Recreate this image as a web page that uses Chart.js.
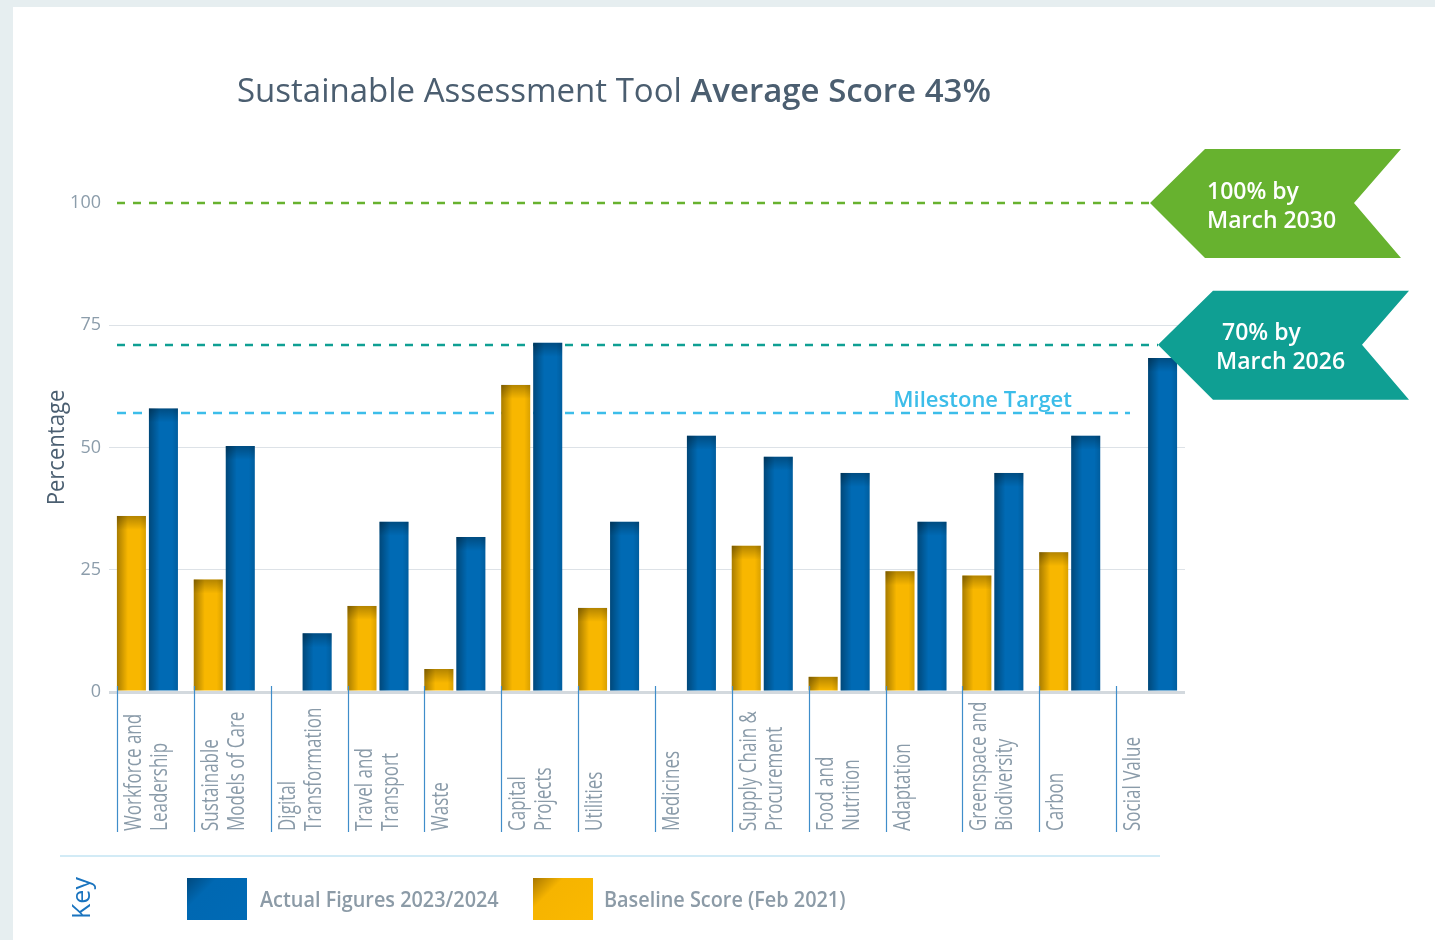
<!DOCTYPE html>
<html>
<head>
<meta charset="utf-8">
<script src="https://cdn.jsdelivr.net/npm/chart.js@4.4.1/dist/chart.umd.min.js"></script>
<style>
  body { margin: 0; width: 1435px; height: 940px; overflow: hidden; background: #e6eef0; font-family: 'Open Sans', sans-serif; }
  #card { position: absolute; left: 13px; top: 7px; width: 1422px; height: 933px; background: #fff; }
  #chart { position: absolute; left: 0; top: 0; }
  #title { position: absolute; left: 224px; top: 60px; font-size: 33px; color: #4b5e70; white-space: nowrap; }
  #title b { font-weight: 600; }
  #keyline { position: absolute; left: 47px; top: 848px; width: 1100px; height: 2px; background: #d2ebf6; }
  #key { position: absolute; left: 47px; top: 871px; width: 40px; height: 40px; }
  #key span { position: absolute; left: 50%; top: 50%; transform: translate(-50%, -50%) rotate(-90deg); color: #1a74bf; font-size: 25px; }
  .box { position: absolute; top: 871px; width: 60px; height: 42px; }
  .lbl { position: absolute; top: 878px; font-size: 21px; font-weight: 600; color: #8c9ba7; white-space: nowrap; transform: scaleX(0.945); transform-origin: left center; }
</style>
</head>
<body>
<div id="card">
  <canvas id="chart" width="1422" height="933"></canvas>
  <div id="title">Sustainable Assessment Tool <b>Average Score 43%</b></div>
  <div id="keyline"></div>
  <div id="key"><span>Key</span></div>
  <div class="box" style="left:174px;background:linear-gradient(135deg,#00497e 0%,#0068b2 30%,#006ab5 100%);"></div>
  <div class="lbl" style="left:247px;">Actual Figures 2023/2024</div>
  <div class="box" style="left:520px;background:linear-gradient(135deg,#a87700 0%,#f6b400 30%,#fab900 100%);"></div>
  <div class="lbl" style="left:591px;">Baseline Score (Feb 2021)</div>
</div>
<script>
const categories = [
  ['Workforce and', 'Leadership'],
  ['Sustainable', 'Models of Care'],
  ['Digital', 'Transformation'],
  ['Travel and', 'Transport'],
  ['Waste'],
  ['Capital', 'Projects'],
  ['Utilities'],
  ['Medicines'],
  ['Supply Chain &', 'Procurement'],
  ['Food and', 'Nutrition'],
  ['Adaptation'],
  ['Greenspace and', 'Biodiversity'],
  ['Carbon'],
  ['Social Value']
];
const baselineScores = [36, 23, 0, 17.6, 4.7, 62.8, 17.2, 0, 29.9, 3.1, 24.7, 23.8, 28.6, 0];
const actualScores = [58, 50.3, 12, 34.8, 31.7, 71.4, 34.8, 52.4, 48.1, 44.8, 34.8, 44.8, 52.4, 68.3];
const yTicks = [0, 25, 50, 75, 100];
const targetValues = [100, 71, 57];
const targetColors = ['#67b22f', '#0f9f93', '#3cbde9'];
const ribbonText = [['100% by', 'March 2030'], ['70% by', 'March 2026']];
const milestoneText = 'Milestone Target';

const yellow = '#f8b700';
const blue = '#006ab4';

const decor = {
  id: 'decor',
  beforeDatasetsDraw(chart) {
    const { ctx, scales: { x, y } } = chart;
    const step = x.width / categories.length;
    const startX = x.getPixelForValue(0) - step / 2 + 8;
    const ends = [1137, 1145, 1117];
    ctx.save();
    ctx.lineWidth = 2.5;
    targetValues.forEach((v, i) => {
      const py = Math.round(y.getPixelForValue(v));
      ctx.strokeStyle = targetColors[i];
      ctx.setLineDash(i === 2 ? [9, 7] : [8, 8]);
      ctx.beginPath();
      ctx.moveTo(startX, py);
      ctx.lineTo(ends[i], py);
      ctx.stroke();
    });
    ctx.restore();
  },
  afterDatasetsDraw(chart) {
    const { ctx } = chart;
    ctx.save();
    chart.data.datasets.forEach((ds, di) => {
      chart.getDatasetMeta(di).data.forEach(bar => {
        const h = bar.base - bar.y;
        if (h <= 0) return;
        const l = bar.x - bar.width / 2;
        const r = bar.x + bar.width / 2;
        let g = ctx.createLinearGradient(l, 0, l + 11, 0);
        g.addColorStop(0, 'rgba(0,0,0,0.32)');
        g.addColorStop(1, 'rgba(0,0,0,0)');
        ctx.fillStyle = g;
        ctx.fillRect(l, bar.y, 11, h);
        g = ctx.createLinearGradient(r - 6, 0, r, 0);
        g.addColorStop(0, 'rgba(0,0,0,0)');
        g.addColorStop(1, 'rgba(0,0,0,0.12)');
        ctx.fillStyle = g;
        ctx.fillRect(r - 6, bar.y, 6, h);
        const th = Math.min(14, h);
        g = ctx.createLinearGradient(0, bar.y, 0, bar.y + th);
        g.addColorStop(0, 'rgba(0,0,0,0.28)');
        g.addColorStop(1, 'rgba(0,0,0,0)');
        ctx.fillStyle = g;
        ctx.fillRect(l, bar.y, bar.width, th);
      });
    });
    ctx.restore();
  },
  afterDraw(chart) {
    const { ctx, chartArea, scales: { x, y } } = chart;
    const step = x.width / categories.length;
    const zeroY = y.getPixelForValue(0);
    const labelBottom = zeroY + 140;
    ctx.save();
    // category dividers and labels
    categories.forEach((lines, i) => {
      const lx = Math.round(x.getPixelForValue(i) - step / 2 + 8) + 0.5;
      ctx.strokeStyle = '#3f8dca';
      ctx.lineWidth = 1.2;
      ctx.beginPath();
      ctx.moveTo(lx, zeroY - 6);
      ctx.lineTo(lx, labelBottom);
      ctx.stroke();
      ctx.fillStyle = '#8a9ba9';
      ctx.font = '23px "Open Sans"';
      ctx.textAlign = 'left';
      ctx.textBaseline = 'middle';
      lines.forEach((t, k) => {
        ctx.save();
        ctx.translate(lx + 17 + k * 26, labelBottom - 1);
        ctx.rotate(-Math.PI / 2);
        ctx.scale(0.74, 1);
        ctx.fillText(t, 0, 0);
        ctx.restore();
      });
    });
    // y axis title
    ctx.save();
    ctx.translate(44, (chartArea.top + chartArea.bottom) / 2);
    ctx.rotate(-Math.PI / 2);
    ctx.fillStyle = '#4b5f71';
    ctx.font = '24px "Open Sans"';
    ctx.textAlign = 'center';
    ctx.textBaseline = 'middle';
    ctx.scale(0.92, 1);
    ctx.fillText('Percentage', 0, 0);
    ctx.restore();
    // ribbons
    const tips = [1137, 1145];
    const textX = [[57, 57], [64, 58]];
    ribbonText.forEach((lines, i) => {
      const tx = tips[i];
      const ty = y.getPixelForValue(targetValues[i]);
      ctx.fillStyle = targetColors[i];
      ctx.beginPath();
      ctx.moveTo(tx, ty);
      ctx.lineTo(tx + 55, ty - 54);
      ctx.lineTo(tx + 251, ty - 54);
      ctx.lineTo(tx + 204, ty);
      ctx.lineTo(tx + 251, ty + 55);
      ctx.lineTo(tx + 55, ty + 55);
      ctx.closePath();
      ctx.fill();
      ctx.fillStyle = '#ffffff';
      ctx.font = '600 23px "Open Sans"';
      ctx.textAlign = 'left';
      ctx.textBaseline = 'middle';
      lines.forEach((t, k) => {
        ctx.fillText(t, tx + textX[i][k], ty - 11 + k * 29);
      });
    });
    // milestone label
    const my = y.getPixelForValue(targetValues[2]);
    ctx.fillStyle = targetColors[2];
    ctx.font = '600 22px "Open Sans"';
    ctx.textAlign = 'right';
    ctx.textBaseline = 'alphabetic';
    ctx.fillText(milestoneText, 1059, my - 6);
    ctx.restore();
  }
};

new Chart(document.getElementById('chart'), {
  type: 'bar',
  data: {
    labels: categories,
    datasets: [
      { label: 'Baseline Score (Feb 2021)', data: baselineScores, backgroundColor: yellow },
      { label: 'Actual Figures 2023/2024', data: actualScores, backgroundColor: blue }
    ]
  },
  options: {
    responsive: false,
    animation: false,
    categoryPercentage: 0.833,
    barPercentage: 0.906,
    layout: { padding: { left: 36, right: 250, top: 196, bottom: 238 } },
    plugins: { legend: { display: false }, tooltip: { enabled: false } },
    scales: {
      x: {
        ticks: { display: false },
        grid: { display: false },
        border: { display: false },
        afterFit(s) { s.height = 10; }
      },
      y: {
        min: 0,
        max: 100,
        afterFit(s) { s.width = 60; },
        afterBuildTicks(s) { s.ticks = yTicks.map(v => ({ value: v })); },
        ticks: { padding: 8, color: '#8c9dab', font: { family: 'Open Sans', size: 18 } },
        border: { display: false },
        grid: {
          drawTicks: false,
          color: c => c.tick.value === 100 ? 'rgba(0,0,0,0)' : (c.tick.value === 0 ? '#d3d9de' : '#dde2e7'),
          lineWidth: c => c.tick.value === 0 ? 3 : 1
        }
      }
    }
  },
  plugins: [decor]
});
</script>
</body>
</html>
